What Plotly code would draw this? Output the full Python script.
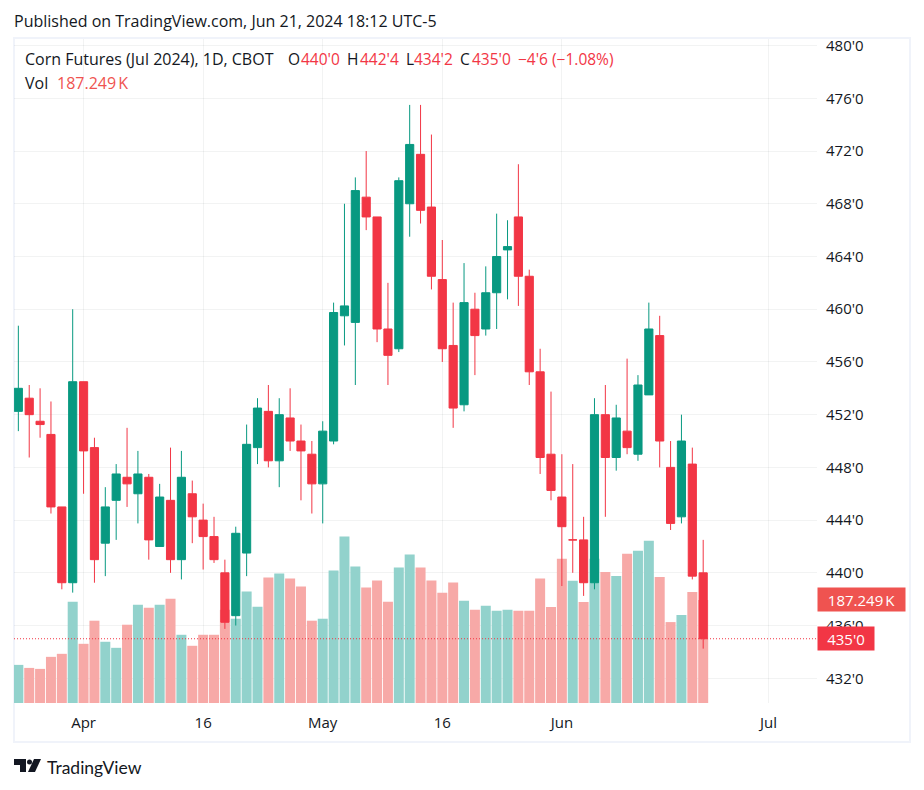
import pandas as pd
import plotly.graph_objects as go

W, H = 924, 790

# trading days from the chart, holidays dropped, with empty days to the right
all_days = pd.bdate_range("2024-03-21", "2024-07-08").strftime("%Y-%m-%d").tolist()
closed = ["2024-03-29", "2024-05-27", "2024-06-19", "2024-07-04"]
dates = [d for d in all_days if d not in closed]
n_bars = 64

opens = [452.25, 453.25, 451.5, 450.5, 445, 439.25, 454.5, 449.5, 442.25, 445.5, 447.25, 446, 447.25, 442, 445.5, 441,
         446, 444, 442.75, 440, 436.75, 441.5, 449.5, 452.25, 448.5, 451.75, 450, 449, 446.75, 450, 459.5, 459,
         468.5, 467, 458.5, 457, 468, 471.75, 467.75, 462.25, 457.25, 452.75, 460, 458.5, 461.25, 464.5, 467, 462.5,
         455.25, 449, 445.75, 442.5, 442.5, 439.25, 452, 448.75, 450.75, 449, 453.5, 458, 448, 444.25, 448.25, 440]
highs = [458.75, 454.25, 454, 453, 445, 460, 454.5, 450.25, 446.5, 448.25, 451, 449.25, 447.5, 446.75, 449.5, 449.25,
         447, 445.25, 444.25, 441, 443.5, 451.25, 453.25, 454.25, 453.25, 454, 451.25, 450, 451.5, 460.5, 468, 470,
         472, 467, 462, 470, 475.5, 475.5, 473.25, 465.25, 460.5, 463.5, 461.25, 463.25, 467.25, 466.75, 471, 463,
         457, 453.75, 449, 448.25, 444.25, 453.25, 454.25, 452.75, 456.25, 455, 460.5, 459.5, 450, 452, 449.5, 442.5]
lows = [450.75, 448.75, 450.25, 444.5, 438.75, 438.5, 446, 439.25, 439.75, 442.5, 445, 443.75, 441, 442, 440, 439.5,
        442.25, 440.25, 440.75, 435.75, 436, 439.75, 448.25, 448, 446.5, 449.25, 445.5, 444.5, 443.75, 449.75, 457.25, 454.25,
        466, 457.5, 454.25, 456.75, 465.5, 466.5, 461.5, 456, 451, 452.25, 455, 458, 458.5, 460.75, 460.25, 454.25,
        447.5, 445.5, 439, 440, 438.25, 438.75, 444.25, 447.75, 449, 448.5, 453.5, 448, 443.25, 443.75, 439.5, 434.25]
closes = [454, 452, 451.25, 445, 439.25, 454.5, 449.25, 441, 445, 447.5, 446.75, 447.5, 442.5, 445.75, 441, 447.25,
          444.25, 442.75, 441, 436.25, 443, 449.75, 452.5, 448.5, 452, 450, 449.25, 446.75, 450.75, 459.75, 460.25, 469,
          467, 458.5, 456.5, 469.75, 472.5, 467.5, 462.5, 457, 452.5, 460.5, 458, 461.25, 464, 464.75, 462.5, 455.25,
          448.75, 446.25, 443.5, 442.5, 439.25, 452, 448.75, 451.75, 449.5, 454.25, 458.5, 450, 443.75, 450, 439.75, 435]
volume_k = [69.3, 63.8, 62, 83.9, 89.4, 184.2, 107.6, 149.6, 111.3, 100.3, 142.3, 178.8, 173.3, 178.8, 189.7, 124,
            104, 124, 124, 169.6, 153.2, 202.5, 175.1, 228, 235.3, 226.2, 211.6, 149.6, 153.2, 240.8, 302.8, 248,
            209.8, 222.5, 184.2, 246.2, 270, 246.2, 222.5, 200.6, 218.9, 186, 169.6, 176.9, 167.8, 169.6, 167.8, 167.8,
            226.2, 174.5, 262, 222, 183.6, 262, 238.3, 231, 271.2, 276.6, 294.9, 229.2, 147.1, 159.9, 201.9, 187.249]

price_ticks = [432, 436, 440, 444, 448, 452, 456, 460, 464, 468, 472, 476, 480]
price_labels = ["432'0", "436'0", "440'0", "444'0", "448'0", "452'0", "456'0", "460'0", "464'0", "468'0", "472'0", "476'0", "480'0"]
date_ticks = ["2024-04-01", "2024-04-16", "2024-05-01", "2024-05-16", "2024-06-03", "2024-07-01"]
date_labels = ["Apr", "16", "May", "16", "Jun", "Jul"]

UP = "#089981"
DOWN = "#f23645"
INK = "#131722"
FONT = "Open Sans"


def px(x):
    return x / W


def py(y):
    return 1 - y / H


vol_colors = ["#92d2cc" if c >= o else "#f7a9a7" for o, c in zip(opens, closes)]

fig = go.Figure()

# volume sits on the base axis so the candles overlay it
fig.add_trace(go.Bar(x=dates[:n_bars], y=volume_k, marker_color=vol_colors, marker_line_width=0,
                     width=0.92, yaxis="y", hoverinfo="skip"))

fig.add_trace(go.Candlestick(x=dates[:n_bars], open=opens, high=highs, low=lows, close=closes,
                             yaxis="y2", whiskerwidth=0,
                             increasing=dict(line=dict(color=UP, width=1), fillcolor=UP),
                             decreasing=dict(line=dict(color=DOWN, width=1), fillcolor=DOWN)))

# header and footer text
texts = [
    (13, 21, "Published on TradingView.com, Jun 21, 2024 18:12 UTC-5", INK, 16, FONT),
    (24, 59, "Corn Futures (Jul 2024), 1D, CBOT", INK, 16, FONT),
    (287, 59, "O", INK, 15.5, FONT), (300, 59, "440'0", DOWN, 15.5, FONT),
    (346, 59, "H", INK, 15.5, FONT), (359, 59, "442'4", DOWN, 15.5, FONT),
    (405, 59, "L", INK, 15.5, FONT), (413, 59, "434'2", DOWN, 15.5, FONT),
    (459, 59, "C", INK, 15.5, FONT), (471, 59, "435'0", DOWN, 15.5, FONT),
    (517, 59, "\u22124'6 (\u22121.08%)", DOWN, 15.5, FONT),
    (24, 83, "Vol", INK, 16, FONT), (56, 83, "187.249\u202fK", "#ef5350", 16, FONT),
    (46, 767, "TradingView", INK, 17.5, "Lato"),
]
annotations = [dict(x=px(x), y=py(y), xref="paper", yref="paper", xanchor="left", yanchor="middle",
                    text=t, showarrow=False, borderpad=0, font=dict(family=f, size=s, color=c))
               for x, y, t, c, s, f in texts]

# last value badges follow the data
annotations.append(dict(x=px(817), y=volume_k[-1], xref="paper", yref="y", xanchor="left", yanchor="middle",
                        text="187.249\u202fK", showarrow=False, bgcolor="#ef5350", width=85, height=21,
                        font=dict(family=FONT, size=15, color="white")))
annotations.append(dict(x=px(817), y=closes[-1], xref="paper", yref="y2", xanchor="left", yanchor="middle",
                        text="435'0", showarrow=False, bgcolor=DOWN, width=54, height=21,
                        font=dict(family=FONT, size=15, color="white")))

shapes = [
    # frame
    dict(type="rect", xref="paper", yref="paper", x0=px(14), x1=px(910), y0=py(742), y1=py(38),
         line=dict(color="#f0f3fa", width=2), layer="below"),
    # last price line
    dict(type="line", xref="paper", yref="y2", x0=px(14), x1=px(817), y0=closes[-1], y1=closes[-1],
         line=dict(color=DOWN, width=1, dash="1px,2px")),
    # logo
    dict(type="path", xref="paper", yref="paper", line_width=0, fillcolor=INK,
         path=f"M{px(14)},{py(759)} L{px(26)},{py(759)} L{px(26)},{py(772)} L{px(20)},{py(772)} "
              f"L{px(20)},{py(765)} L{px(14)},{py(765)} Z"),
    dict(type="circle", xref="paper", yref="paper", line_width=0, fillcolor=INK,
         x0=px(27), x1=px(32), y0=py(764.5), y1=py(759.5)),
    dict(type="path", xref="paper", yref="paper", line_width=0, fillcolor=INK,
         path=f"M{px(34)},{py(759)} L{px(41)},{py(759)} L{px(35)},{py(772)} L{px(28)},{py(772)} Z"),
]

grid = "rgba(42,46,57,0.06)"

fig.update_layout(
    width=W, height=H, margin=dict(l=0, r=0, t=0, b=0, autoexpand=False),
    paper_bgcolor="white", plot_bgcolor="white", showlegend=False,
    boxgap=0.25, boxgroupgap=0, shapes=shapes, annotations=annotations,
    xaxis=dict(domain=[px(14), px(817)], type="category", categoryorder="array", categoryarray=dates,
               range=[-0.4, 73.47], tickmode="array", tickvals=date_ticks, ticktext=date_labels,
               rangeslider=dict(visible=False), showgrid=True, gridcolor=grid, gridwidth=1,
               ticks="", showline=False, zeroline=False, ticklabelstandoff=9, automargin=False,
               tickfont=dict(family=FONT, size=15, color=INK), anchor="y"),
    yaxis=dict(domain=[py(703), py(39)], range=[0, 1207], visible=False, showgrid=False, automargin=False),
    yaxis2=dict(domain=[py(703), py(39)], overlaying="y", side="right", anchor="x", range=[430.125, 480.5],
                tickmode="array", tickvals=price_ticks, ticktext=price_labels, showgrid=True, gridcolor=grid,
                ticks="", showline=False, zeroline=False, ticklabelstandoff=8, automargin=False,
                tickfont=dict(family=FONT, size=15, color=INK)),
)

fig.write_html("out.html", config=dict(displayModeBar=False), post_script="document.body.style.margin='0';")
